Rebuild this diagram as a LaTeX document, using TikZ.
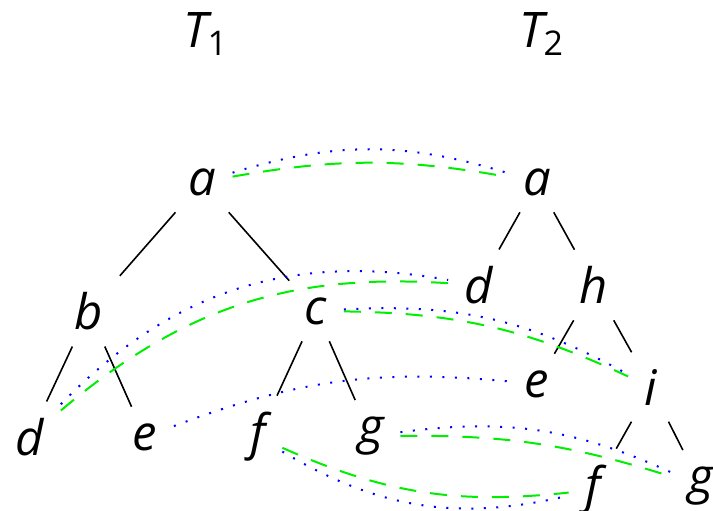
\documentclass[tikz,border=0pt]{standalone}
\usepackage{fontspec}
\setmainfont{Open Sans}
\definecolor{mblue}{HTML}{0000FF}
\definecolor{mgreen}{HTML}{00EE00}

\begin{document}
\begin{tikzpicture}[x=0.5pt, y=-0.5pt]

\tikzstyle{lbl} = [font=\fontsize{24.5}{29}\selectfont\itshape, inner sep=8.15pt]
\tikzstyle{tedge} = [black, line width=0.8pt]
\tikzstyle{mapa} = [mblue, line width=1pt, dash pattern=on 1pt off 5.25pt]
\tikzstyle{mapb} = [mgreen, line width=1pt, dash pattern=on 8.5pt off 7pt]

\useasboundingbox (0,0) rectangle (713,510);

% Titles
\node[lbl] (t1) at (205,34) {T\raisebox{-4pt}{\upshape\fontsize{17}{17}\selectfont 1}};
\node[lbl] (t2) at (541,34) {T\raisebox{-4pt}{\upshape\fontsize{17}{17}\selectfont 2}};

% Tree T1
\node[lbl] (a1) at (202,182) {a};
\node[lbl] (b1) at (89,311) {b};
\node[lbl] (c1) at (316,311) {c};
\node[lbl] (d1) at (30,437) {d};
\node[lbl] (e1) at (145,437) {e};
\node[lbl] (f1) at (258,437) {f};
\node[lbl] (g1) at (371,436) {g};

\draw[tedge] (a1) -- (b1);
\draw[tedge] (a1) -- (c1);
\draw[tedge] (b1) -- (d1);
\draw[tedge] (b1) -- (e1);
\draw[tedge] (c1) -- (f1);
\draw[tedge] (c1) -- (g1);

% Tree T2
\node[lbl] (a2) at (537,182) {a};
\node[lbl] (d2) at (479,285) {d};
\node[lbl] (h2) at (594,285) {h};
\node[lbl] (e2) at (537,384) {e};
\node[lbl] (i2) at (651,387) {i};
\node[lbl] (f2) at (593,490) {f};
\node[lbl] (g2) at (701,486) {g};

\draw[tedge] (a2) -- (d2);
\draw[tedge] (a2) -- (h2);
\draw[tedge] (h2) -- (e2);
\draw[tedge] (h2) -- (i2);
\draw[tedge] (i2) -- (f2);
\draw[tedge] (i2) -- (g2);

% Mappings
\draw[mapb] (a1) to[bend left=10] (a2);
\draw[mapa] (a1) to[bend left=17] (a2);
\draw[mapb] (d1) to[bend left=22] (d2);
\draw[mapa] (d1) to[bend left=28] (d2);
\draw[mapb] (c1) to[bend left=12] (i2);
\draw[mapa] (c1) to[bend left=16] (i2);
\draw[mapa] (e1) to[bend left=13] (e2);
\draw[mapb] (g1) to[bend left=9] (g2);
\draw[mapa] (g1) to[bend left=16] (g2);
\draw[mapb] (f1) to[bend right=15] (f2);
\draw[mapa] (f1) to[bend right=22] (f2);

\end{tikzpicture}
\end{document}
